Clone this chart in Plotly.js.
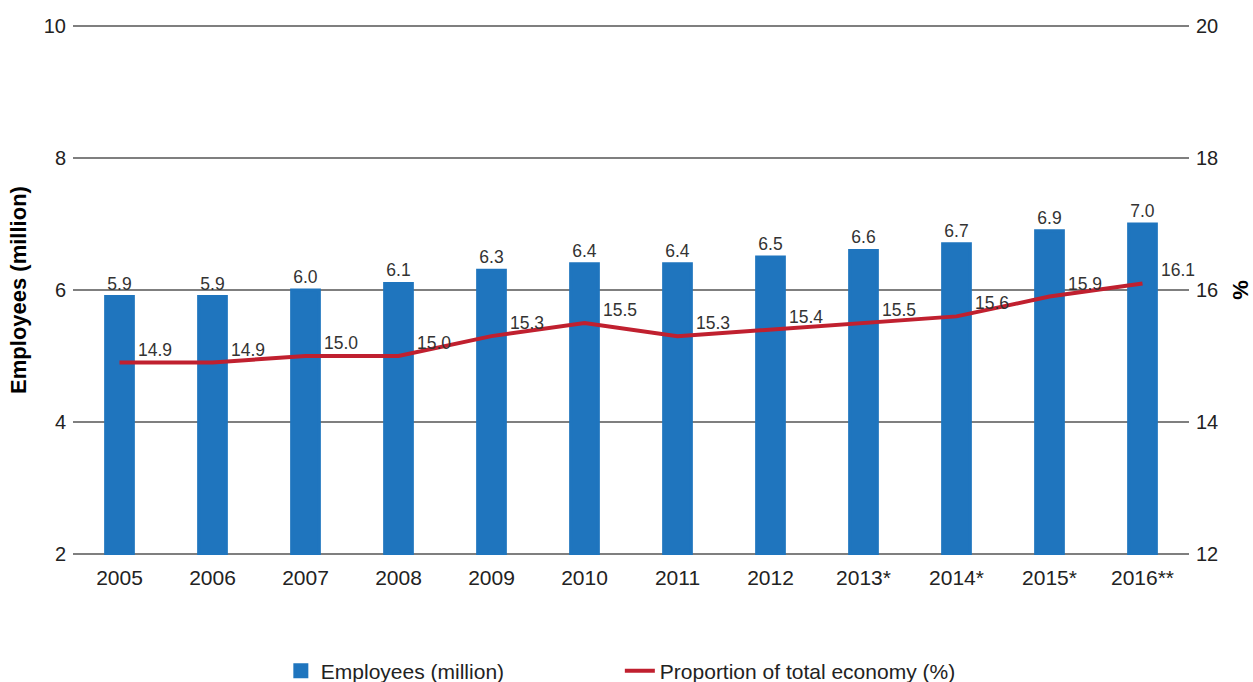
<!DOCTYPE html>
<html>
<head>
<meta charset="utf-8">
<script src="https://cdn.plot.ly/plotly-3.0.1.min.js"></script>
<style>html,body{margin:0;padding:0;background:#fff;}#chart{width:1253px;height:682px;}</style>
</head>
<body>
<div id="chart"></div>
<script>
const years = ["2005","2006","2007","2008","2009","2010","2011","2012","2013*","2014*","2015*","2016**"];
const employees = [5.9,5.9,6.0,6.1,6.3,6.4,6.4,6.5,6.6,6.7,6.9,7.0];
const proportion = [14.9,14.9,15.0,15.0,15.3,15.5,15.3,15.4,15.5,15.6,15.9,16.1];
const leftTicks = [2,4,6,8,10];
const rightTicks = [12,14,16,18,20];

const FONT = 'Liberation Sans, Arial, sans-serif';
const BLUE = '#1f75be';

const bars = {
  type: 'bar', name: 'Employees (million)', x: years, y: employees,
  marker: {color: BLUE, line: {color: BLUE, width: 3}}, width: 0.298,
  texttemplate: '%{y:.1f}', textposition: 'outside', cliponaxis: false,
  textfont: {family: FONT, size: 17.5, color: '#333'},
  hoverinfo: 'x+y'
};
const line = {
  type: 'scatter', mode: 'lines', name: 'Proportion of total economy (%)',
  x: years, y: proportion, yaxis: 'y2',
  line: {color: '#c0202f', width: 4}
};

// category axis: annotations positioned by category index
const annotations = years.map((yr, i) => ({
  x: i, y: proportion[i], xref: 'x', yref: 'y2',
  text: proportion[i].toFixed(1), showarrow: false,
  xanchor: 'left', yanchor: 'bottom', xshift: 16, yshift: 1,
  font: {family: FONT, size: 17.5, color: '#333'}
}));

const layout = {
  width: 1253, height: 682,
  margin: {l: 73, r: 64, t: 24.7, b: 126.7},
  paper_bgcolor: '#fff', plot_bgcolor: '#fff',
  font: {family: FONT, color: '#222'},
  showlegend: true,
  legend: {orientation: 'h', x: 0.49, xanchor: 'center', yref: 'container', y: 0.016, yanchor: 'middle',
           entrywidth: 294, entrywidthmode: 'pixels',
           font: {family: FONT, size: 21, color: '#222'}, traceorder: 'normal'},
  xaxis: {type: 'category', categoryorder: 'array', categoryarray: years, range: [-0.5, years.length - 0.5],
          showgrid: false, zeroline: false, showline: false, ticks: '', ticklabelstandoff: 8,
          tickfont: {family: FONT, size: 21, color: '#222'}},
  yaxis: {range: [1.98, 10.02], tickvals: leftTicks, showgrid: true, gridcolor: '#7f7f7f', gridwidth: 2,
          zeroline: false, showline: false, ticks: '', ticklabelstandoff: 6,
          tickfont: {family: FONT, size: 20, color: '#222'},
          title: {text: '<b>Employees (million)</b>', standoff: 11,
                  font: {family: FONT, size: 22, color: '#000'}}},
  yaxis2: {range: [11.98, 20.02], tickvals: rightTicks, overlaying: 'y', side: 'right', showgrid: false,
           zeroline: false, showline: false, ticks: '', ticklabelstandoff: 6,
           tickfont: {family: FONT, size: 20, color: '#222'},
           title: {text: '<b>%</b>', standoff: 18, font: {family: FONT, size: 22, color: '#000'}}},
  annotations: annotations
};

Plotly.newPlot('chart', [bars, line], layout, {displayModeBar: false, staticPlot: true});
</script>
</body>
</html>
